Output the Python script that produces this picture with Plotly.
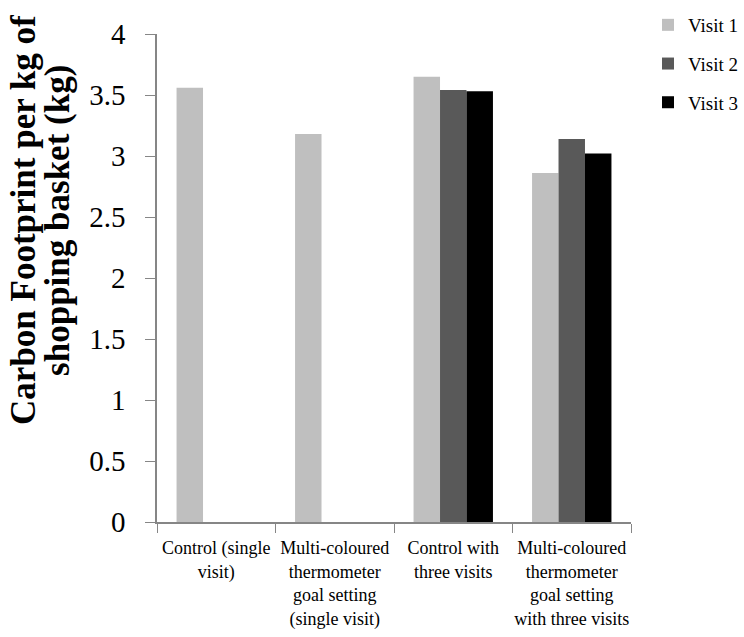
import plotly.graph_objects as go

categories = [
    "Control (single<br>visit)",
    "Multi-coloured<br>thermometer<br>goal setting<br>(single visit)",
    "Control with<br>three visits",
    "Multi-coloured<br>thermometer<br>goal setting<br>with three visits",
]
visit1 = [3.56, 3.18, 3.65, 2.86]
visit2 = [None, None, 3.54, 3.14]
visit3 = [None, None, 3.53, 3.02]
series_names = ["Visit 1", "Visit 2", "Visit 3"]
series_colors = ["#BFBFBF", "#595959", "#000000"]
y_ticks = [0, 0.5, 1, 1.5, 2, 2.5, 3, 3.5, 4]
y_tick_labels = ["0", "0.5", "1", "1.5", "2", "2.5", "3", "3.5", "4"]
y_title_lines = ["Carbon Footprint per kg of", "shopping basket (kg)"]

serif = "Liberation Serif"
small_serif = "Times New Roman"

fig = go.Figure()
for i, (name, vals, col) in enumerate(zip(series_names, [visit1, visit2, visit3], series_colors)):
    fig.add_trace(go.Bar(x=categories, y=vals, name=name, marker_color=col,
                         marker_line_width=0, legendgroup=f"g{i}"))

for i, line in enumerate(y_title_lines):
    fig.add_annotation(text=f"<b>{line}</b>", textangle=-90,
                       xref="paper", yref="paper",
                       x=[-0.2806, -0.2089][i], y=0.619,
                       xanchor="center", yanchor="middle", showarrow=False,
                       font=dict(size=35, family=serif, color="black"))

fig.update_layout(
    width=744, height=637,
    barmode="group", bargap=0.33, bargroupgap=0,
    plot_bgcolor="white", paper_bgcolor="white",
    margin=dict(l=157, r=113, t=34, b=115, autoexpand=False),
    font=dict(family=small_serif, color="black"),
    legend=dict(xref="container", yref="container", x=1.0, y=0.9906,
                xanchor="right", yanchor="top",
                font=dict(size=19, family=small_serif), tracegroupgap=11,
                itemwidth=30, bgcolor="rgba(0,0,0,0)"),
    xaxis=dict(showline=True, linecolor="#868686", linewidth=1.5,
               ticks="outside", ticklen=9, tickcolor="#868686",
               tickson="boundaries", ticklabelstandoff=9,
               tickfont=dict(size=18, family=small_serif), tickangle=0),
    yaxis=dict(range=[0, 4], tickvals=y_ticks, ticktext=y_tick_labels,
               showline=True, linecolor="#868686", linewidth=1.5,
               ticks="outside", ticklen=10, tickcolor="#868686",
               showgrid=False, zeroline=False, ticklabelstandoff=14,
               tickfont=dict(size=29, family=serif)),
)

fig.write_html("out.html",
               config={"displayModeBar": False},
               post_script="document.body.style.margin='0';document.body.style.padding='0';")
